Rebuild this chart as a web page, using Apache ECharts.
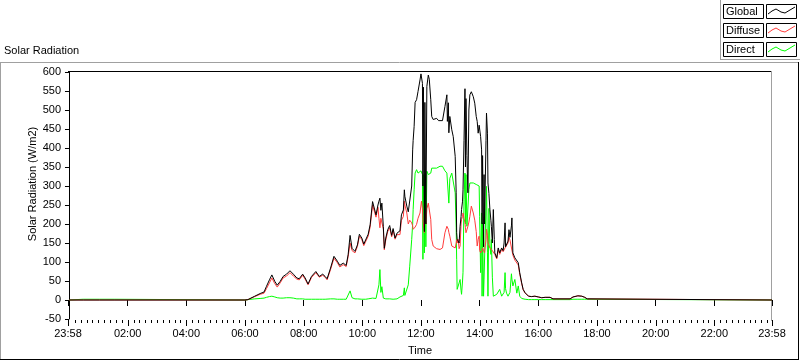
<!DOCTYPE html>
<html>
<head>
<meta charset="utf-8">
<script src="https://cdn.jsdelivr.net/npm/echarts@6/dist/echarts.min.js"></script>
<style>
html,body{margin:0;padding:0;background:#fff;}
#chart{width:800px;height:361px;}
</style>
</head>
<body>
<div id="chart"></div>
<script>
// ---- data ----
var times = ["00:00","00:02","00:29","00:30","00:43","01:03","01:04","01:28","01:34","01:35","06:00","06:06","06:20","06:31","06:39","06:44","06:50","06:55","06:58","07:01","07:06","07:12","07:18","07:25","07:32","07:39","07:46","07:51","07:58","08:03","08:09","08:16","08:25","08:32","08:39","08:44","08:48","08:55","09:02","09:09","09:14","09:21","09:27","09:31","09:35","09:39","09:45","09:50","09:54","09:59","10:03","10:07","10:12","10:16","10:21","10:24","10:28","10:32","10:34","10:36","10:38","10:40","10:43","10:45","10:48","10:52","10:56","11:00","11:03","11:07","11:11","11:17","11:20","11:24","11:26","11:27","11:31","11:34","11:37","11:41","11:43","11:44","11:46","11:48","11:51","11:54","11:58","12:00","12:01","12:03","12:04","12:05","12:07","12:08","12:10","12:12","12:15","12:17","12:20","12:22","12:25","12:32","12:36","12:39","12:44","12:49","12:53","12:54","12:56","12:57","12:59","13:03","13:06","13:10","13:12","13:13","13:14","13:16","13:18","13:20","13:22","13:23","13:25","13:26","13:28","13:30","13:31","13:32","13:34","13:36","13:38","13:40","13:43","13:47","13:50","13:53","13:55","13:57","13:59","14:00","14:02","14:04","14:05","14:06","14:08","14:09","14:10","14:13","14:14","14:16","14:17","14:19","14:21","14:23","14:24","14:26","14:28","14:30","14:31","14:35","14:38","14:41","14:45","14:48","14:50","14:52","14:53","14:55","14:58","15:00","15:02","15:05","15:06","15:08","15:12","15:16","15:19","15:22","15:26","15:29","15:33","15:40","15:46","15:53","16:00","16:07","16:14","16:24","16:30","17:05","17:11","17:21","17:29","17:35","17:40","17:44","23:58"];
var globalRad = [0,0,0,0,0,0,0,0,0,0,0,1,10,17,21,36,53,66,62,49,39,49,62,68,77,68,58,56,68,58,42,62,75,62,68,62,56,84,115,102,91,97,91,119,170,136,128,145,173,163,147,149,173,198,259,263,224,250,260,268,236,255,193,136,163,185,196,170,188,163,176,182,224,237,290,273,247,232,229,300,395,420,457,520,527,549,579,595,590,570,300,560,180,520,200,562,592,581,527,483,475,478,472,477,472,509,540,470,519,440,483,448,430,378,282,177,160,165,150,194,220,238,260,290,420,556,350,530,380,282,500,540,548,535,518,483,470,439,460,465,430,395,200,380,140,330,200,420,492,439,308,280,238,210,194,150,238,159,124,111,137,124,137,130,150,203,140,137,155,185,165,195,216,124,111,115,98,72,45,28,19,10,9,10,8,6,7,7,3,3,8,11,10,7,3,0,0];
var diffuseRad = [0,0,0,0,0,0,0,0,0,0,0,1,9,15,18,30,45,58,55,43,34,45,58,63,72,63,55,53,65,55,40,59,72,60,65,60,53,80,110,98,87,93,88,114,150,130,124,141,168,159,143,145,168,192,250,255,218,244,215,190,215,220,187,132,158,180,190,166,184,160,172,172,210,220,260,250,229,200,210,203,195,186,188,192,199,215,229,250,260,240,210,200,177,230,200,240,255,260,212,159,142,135,134,133,137,177,194,190,186,178,168,142,137,137,150,159,150,160,135,142,200,212,220,229,215,203,190,177,185,194,205,220,247,229,210,180,142,160,168,130,124,128,130,137,130,128,124,160,186,170,150,145,137,133,132,130,128,125,120,108,132,120,133,127,130,137,135,133,150,165,158,163,159,118,105,110,92,68,43,27,18,10,9,10,8,6,7,7,3,3,8,11,10,7,3,0,0];
var directRad = [0,2,2,0,2,2,0,2,2,0,0,1,3,4,5,7,9,10,9,8,6,5,5,6,6,5,3,3,3,2,2,2,2,2,2,2,2,3,3,2,2,2,2,4,24,6,3,3,3,2,2,2,3,4,5,5,4,4,40,80,20,35,5,4,3,3,3,2,2,2,3,8,10,12,32,12,10,40,89,159,200,238,290,334,343,334,330,340,335,330,107,330,124,330,140,339,330,332,334,347,343,347,350,352,352,340,334,330,330,255,320,334,334,282,190,107,28,30,45,54,25,15,50,73,264,334,200,330,194,194,290,308,304,308,306,304,306,308,300,220,72,229,10,203,10,55,60,250,299,124,10,241,142,120,159,60,10,10,10,15,12,28,10,12,20,72,30,18,10,12,20,69,55,37,54,18,37,10,4,2,2,1,1,1,1,1,1,1,1,1,2,2,2,2,2,0,0];
var yTicks = [-50,0,50,100,150,200,250,300,350,400,450,500,550,600];
var xTickLabels = ["23:58","02:00","04:00","06:00","08:00","10:00","12:00","14:00","16:00","18:00","20:00","22:00","23:58"];
var seriesNames = ["Global","Diffuse","Direct"];

// ---- helpers ----
function toMin(s){var p=s.split(":");return (+p[0])*60+(+p[1]);}
var xMin = -2, xMax = 1438;   // 23:58 of previous day .. 23:58
var majorVals = xTickLabels.map(function(l,i){
  if(i===0) return xMin;
  if(i===xTickLabels.length-1) return xMax;
  return toMin(l);
});
var minorVals = [];
for (var m = 12; m < 1438; m += 12) { if (m % 120 !== 0) minorVals.push(m); }

function pairs(vals){ return times.map(function(t,i){ return [toMin(t), vals[i]]; }); }

var FONT = 'Liberation Sans';
var colors = ['#000000','#ff3c3c','#00ff00'];
var GRID = {left:68, right:28, top:72, bottom:39.3};

function makeStaticGraphics(){
  var g = [
    {type:'line', shape:{x1:0,y1:62.5,x2:799,y2:62.5}, style:{stroke:'#a0a0a0',lineWidth:1}, silent:true},
    {type:'line', shape:{x1:0.5,y1:62,x2:0.5,y2:360}, style:{stroke:'#a0a0a0',lineWidth:1}, silent:true},
    {type:'line', shape:{x1:0,y1:359.5,x2:799,y2:359.5}, style:{stroke:'#000',lineWidth:1}, silent:true},
    {type:'line', shape:{x1:798.5,y1:62,x2:798.5,y2:360}, style:{stroke:'#000',lineWidth:1}, silent:true},
    {type:'line', shape:{x1:68,y1:71.5,x2:772,y2:71.5}, style:{stroke:'#000',lineWidth:1}, silent:true},
    {type:'line', shape:{x1:771.5,y1:71,x2:771.5,y2:321}, style:{stroke:'#a0a0a0',lineWidth:1}, silent:true},
    {type:'line', shape:{x1:720.5,y1:0,x2:720.5,y2:60}, style:{stroke:'#a0a0a0',lineWidth:1}, silent:true},
    {type:'line', shape:{x1:720,y1:59.5,x2:800,y2:59.5}, style:{stroke:'#a0a0a0',lineWidth:1}, silent:true},
    {type:'text', x:4, y:51, style:{text:'Solar Radiation', fill:'#000', font:'11px '+FONT, textVerticalAlign:'middle'}, silent:true},
    {type:'text', x:33, y:184, rotation:Math.PI/2, style:{text:'Solar Radiation (W/m2)', fill:'#000', font:'11px '+FONT, textAlign:'center', textVerticalAlign:'middle'}, silent:true}
  ];
  seriesNames.forEach(function(n,i){
    var y0 = 4 + i*19;
    g.push({type:'rect', shape:{x:723.5,y:y0+0.5,width:40,height:14}, style:{fill:'#fff',stroke:'#000',lineWidth:1}, silent:true});
    g.push({type:'text', x:726, y:y0+8, style:{text:n, fill:'#000', font:'11px '+FONT, textVerticalAlign:'middle'}, silent:true});
    g.push({type:'rect', shape:{x:766.5,y:y0+0.5,width:30,height:14}, style:{fill:'#fff',stroke:'#000',lineWidth:1}, silent:true});
    g.push({type:'polyline', shape:{points:[[768,y0+10],[772,y0+7],[776,y0+5],[781,y0+8],[785,y0+9],[790,y0+6],[795,y0+3]]}, style:{stroke:colors[i],lineWidth:1,fill:null}, silent:true});
  });
  return g;
}

var chart = echarts.init(document.getElementById('chart'), null, {renderer:'canvas'});

var option = {
  animation:false,
  backgroundColor:'#ffffff',
  textStyle:{fontFamily:FONT},
  grid:{left:GRID.left, right:GRID.right, top:GRID.top, bottom:GRID.bottom, containLabel:false},
  xAxis:{
    type:'value', min:xMin, max:xMax,
    name:'Time', nameLocation:'middle', nameGap:26,
    nameTextStyle:{color:'#000', fontSize:11, fontFamily:FONT},
    axisLine:{show:false},
    axisTick:{show:true, customValues:majorVals, length:6, lineStyle:{color:'#000',width:1}},
    axisLabel:{customValues:majorVals, color:'#000', fontSize:11, fontFamily:FONT, margin:9,
      formatter:function(v){
        if (v===xMin || v===xMax) return '23:58';
        var h=Math.floor(v/60), mm=v%60;
        return (h<10?'0':'')+h+':'+(mm<10?'0':'')+mm;
      }},
    splitLine:{show:false}
  },
  yAxis:{
    type:'value', min:-50, max:600, interval:50,
    axisLine:{show:true, lineStyle:{color:'#000',width:1}},
    axisTick:{show:true, length:4, lineStyle:{color:'#000'}},
    axisLabel:{color:'#000', fontSize:11, fontFamily:FONT, margin:7},
    splitLine:{show:false}
  },
  series:[
    {name:'Direct', type:'line', data:pairs(directRad), showSymbol:false, symbol:'none', lineStyle:{color:colors[2],width:1}, itemStyle:{color:colors[2]}},
    {name:'Diffuse', type:'line', data:pairs(diffuseRad), showSymbol:false, symbol:'none', lineStyle:{color:colors[1],width:1}, itemStyle:{color:colors[1]}},
    {name:'Global', type:'line', data:pairs(globalRad), showSymbol:false, symbol:'none', lineStyle:{color:colors[0],width:1}, itemStyle:{color:colors[0]}}
  ],
  graphic:{elements: makeStaticGraphics()}
};
chart.setOption(option);

// x-axis tick row (major + minor) placed through the chart's x scale
function tickPixel(v){
  var p = null;
  try { p = chart.convertToPixel({xAxisIndex:0}, v); } catch(e) { p = null; }
  if (typeof p !== 'number' || !isFinite(p)) {
    var w = 800 - GRID.left - GRID.right;
    p = GRID.left + (v - xMin) / (xMax - xMin) * w;
  }
  return p;
}
var yBottom = (function(){
  var q = null;
  try { q = chart.convertToPixel({yAxisIndex:0}, -50); } catch(e) { q = null; }
  return (typeof q === 'number' && isFinite(q)) ? q : (361 - GRID.bottom);
})();
var ticks = [];
majorVals.forEach(function(v){ ticks.push({type:'rect', z:100, shape:{x:Math.round(tickPixel(v)), y:Math.round(yBottom)+1, width:1, height:6}, style:{fill:'#000'}, silent:true}); });
minorVals.forEach(function(v){ ticks.push({type:'rect', z:100, shape:{x:Math.round(tickPixel(v)), y:Math.round(yBottom)+1, width:1, height:3}, style:{fill:'#000'}, silent:true}); });
chart.setOption({graphic:{elements: makeStaticGraphics().concat(ticks)}}, {replaceMerge:['graphic']});
</script>
</body>
</html>
